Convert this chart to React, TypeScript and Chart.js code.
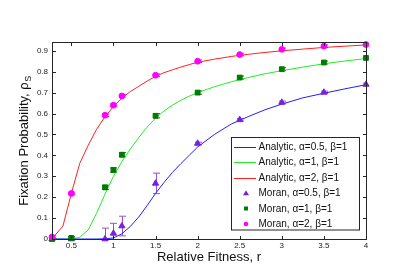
import React, { useEffect, useRef } from 'react';
import { Chart, registerables } from 'chart.js';

Chart.register(...registerables);

// Moran simulation data
const rMoran = [0.27, 0.5, 0.9, 1.0, 1.1, 1.5, 2, 2.5, 3, 3.5, 4];
const moranA05 = [0, 0, 0.0, 0.027, 0.062, 0.266, 0.457, 0.570, 0.653, 0.701, 0.739];
const errA05 = [0.004, 0.004, 0.052, 0.048, 0.047, 0.049, 0.006, 0.006, 0.006, 0.006, 0.006];
const moranA1 = [0.0, 0.005, 0.247, 0.330, 0.403, 0.589, 0.700, 0.772, 0.812, 0.844, 0.866];
const errA1 = [0.004, 0.006, 0.01, 0.01, 0.01, 0.01, 0.008, 0.007, 0.007, 0.007, 0.007];
const moranA2 = [0.01, 0.218, 0.592, 0.640, 0.684, 0.783, 0.850, 0.882, 0.907, 0.922, 0.930];
const errA2 = [0.006, 0.006, 0.006, 0.006, 0.006, 0.006, 0.006, 0.006, 0.006, 0.006, 0.006];

// Analytic curves
const rAnalytic = [0.27, 0.3, 0.4, 0.5, 0.6, 0.7, 0.8, 0.9, 1.0, 1.1, 1.2, 1.3, 1.4, 1.5, 1.6, 1.7, 1.8, 1.9, 2.0, 2.2, 2.4, 2.6, 2.8, 3.0, 3.25, 3.5, 3.75, 4.0];
const analyticA05 = [0, 0, 0, 0, 0, 0, 0, 0.001, 0.005, 0.025, 0.06, 0.105, 0.16, 0.218, 0.27, 0.318, 0.36, 0.40, 0.44, 0.50, 0.55, 0.585, 0.618, 0.645, 0.675, 0.697, 0.718, 0.738];
const analyticA1 = [0, 0, 0, 0, 0.008, 0.043, 0.123, 0.215, 0.30, 0.37, 0.43, 0.485, 0.535, 0.578, 0.612, 0.64, 0.663, 0.683, 0.70, 0.728, 0.752, 0.772, 0.79, 0.805, 0.822, 0.838, 0.851, 0.863];
const analyticA2 = [0.008, 0.015, 0.062, 0.218, 0.362, 0.448, 0.525, 0.585, 0.633, 0.673, 0.705, 0.73, 0.755, 0.778, 0.795, 0.809, 0.822, 0.834, 0.845, 0.86, 0.873, 0.883, 0.892, 0.90, 0.908, 0.916, 0.922, 0.928];

const xTickValues = [0.5, 1, 1.5, 2, 2.5, 3, 3.5, 4];
const xTickLabels = ['0.5', '1', '1.5', '2', '2.5', '3', '3.5', '4'];
const yTickValues = [0, 0.1, 0.2, 0.3, 0.4, 0.5, 0.6, 0.7, 0.8, 0.9];
const yTickLabels = ['0', '0.1', '0.2', '0.3', '0.4', '0.5', '0.6', '0.7', '0.8', '0.9'];

const legendLabels = [
  'Analytic, α=0.5, β=1',
  'Analytic, α=1, β=1',
  'Analytic, α=2, β=1',
  'Moran, α=0.5, β=1',
  'Moran, α=1, β=1',
  'Moran, α=2, β=1',
];
const xTitle = 'Relative Fitness, r';
const yTitle = 'Fixation Probability, ρ';
const yTitleSub = 'S';

const FONT = '"Liberation Sans", Arial, Helvetica, sans-serif';
const AXIS = '#262626';
const BLUE = '#2020ff';
const LGREEN = '#22ee22';
const RED = '#ff2020';
const PURPLE = '#7a1fe0';
const PURPLE_ERR = '#9050e8';
const DGREEN = '#007a00';
const MAGENTA = '#ff00ff';

const toPts = (xs: number[], ys: number[]) => xs.map((x, i) => ({ x, y: ys[i] }));

const errorSets = [
  { ys: moranA05, es: errA05, color: PURPLE_ERR },
  { ys: moranA1, es: errA1, color: DGREEN },
  { ys: moranA2, es: errA2, color: MAGENTA },
];

const overlayPlugin = {
  id: 'overlay',
  beforeDatasetsDraw(chart: any) {
    const { ctx, chartArea, scales } = chart;
    const xs = scales.x;
    const ys = scales.y;
    ctx.save();
    ctx.beginPath();
    ctx.rect(chartArea.left, chartArea.top, chartArea.right - chartArea.left, chartArea.bottom - chartArea.top);
    ctx.clip();
    ctx.lineWidth = 1;
    errorSets.forEach((s) => {
      ctx.strokeStyle = s.color;
      rMoran.forEach((r, i) => {
        const px = Math.round(xs.getPixelForValue(r)) + 0.5;
        const top = ys.getPixelForValue(s.ys[i] + s.es[i]);
        const bot = ys.getPixelForValue(s.ys[i] - s.es[i]);
        ctx.beginPath();
        ctx.moveTo(px, top);
        ctx.lineTo(px, bot);
        ctx.moveTo(px - 3.5, top);
        ctx.lineTo(px + 3.5, top);
        ctx.moveTo(px - 3.5, bot);
        ctx.lineTo(px + 3.5, bot);
        ctx.stroke();
      });
    });
    ctx.restore();
  },
  afterDatasetsDraw(chart: any) {
    const { ctx, chartArea, scales } = chart;
    const { left, right, top, bottom } = chartArea;
    const l = Math.round(left) + 0.5;
    const r = Math.round(right) + 0.5;
    const t = Math.round(top) + 0.5;
    const b = Math.round(bottom) + 0.5;
    ctx.save();
    ctx.strokeStyle = AXIS;
    ctx.lineWidth = 1;
    ctx.strokeRect(l, t, r - l, b - t);
    const tl = 3.5;
    ctx.beginPath();
    xTickValues.forEach((v) => {
      const px = Math.round(scales.x.getPixelForValue(v)) + 0.5;
      ctx.moveTo(px, b);
      ctx.lineTo(px, b - tl);
      ctx.moveTo(px, t);
      ctx.lineTo(px, t + tl);
    });
    yTickValues.forEach((v) => {
      const py = Math.round(scales.y.getPixelForValue(v)) + 0.5;
      ctx.moveTo(l, py);
      ctx.lineTo(l + tl, py);
      ctx.moveTo(r, py);
      ctx.lineTo(r - tl, py);
    });
    ctx.stroke();
    ctx.restore();
  },
  afterDraw(chart: any) {
    const { ctx } = chart;
    ctx.save();
    // Legend box
    const bx = 231.5, by = 137.5, bw = 128, bh = 92.5;
    ctx.fillStyle = '#ffffff';
    ctx.fillRect(bx, by, bw, bh);
    ctx.strokeStyle = AXIS;
    ctx.lineWidth = 1;
    ctx.strokeRect(bx, by, bw, bh);
    const rowY0 = 146.7;
    const rowStep = 15.45;
    ctx.font = `10px ${FONT}`;
    ctx.textBaseline = 'middle';
    ctx.textAlign = 'left';
    const lineColors = [BLUE, LGREEN, RED];
    legendLabels.forEach((lab, i) => {
      const y = rowY0 + i * rowStep;
      if (i < 3) {
        ctx.strokeStyle = lineColors[i];
        ctx.lineWidth = 1;
        ctx.beginPath();
        ctx.moveTo(234, Math.round(y) + 0.5);
        ctx.lineTo(256, Math.round(y) + 0.5);
        ctx.stroke();
      } else if (i === 3) {
        ctx.fillStyle = PURPLE;
        ctx.beginPath();
        ctx.moveTo(246, y - 2.8);
        ctx.lineTo(249, y + 2.2);
        ctx.lineTo(243, y + 2.2);
        ctx.closePath();
        ctx.fill();
      } else if (i === 4) {
        ctx.fillStyle = DGREEN;
        ctx.fillRect(244, y - 2, 4, 4);
      } else {
        ctx.fillStyle = MAGENTA;
        ctx.beginPath();
        ctx.arc(246, y, 2.3, 0, Math.PI * 2);
        ctx.fill();
      }
      ctx.fillStyle = '#111';
      ctx.fillText(lab, 258.5, y + 0.5);
    });

    // Axis titles
    ctx.fillStyle = '#111';
    ctx.font = `13px ${FONT}`;
    ctx.textAlign = 'center';
    ctx.textBaseline = 'alphabetic';
    ctx.fillText(xTitle, 209, 261);

    ctx.translate(28, 141);
    ctx.rotate(-Math.PI / 2);
    ctx.font = `13px ${FONT}`;
    const wMain = ctx.measureText(yTitle).width;
    ctx.font = `9px ${FONT}`;
    const wSub = ctx.measureText(yTitleSub).width;
    const start = -(wMain + wSub) / 2;
    ctx.textAlign = 'left';
    ctx.font = `13px ${FONT}`;
    ctx.fillText(yTitle, start, 0);
    ctx.font = `9px ${FONT}`;
    ctx.fillText(yTitleSub, start + wMain + 0.5, 3);
    ctx.restore();
  },
};

export default function App() {
  const canvasRef = useRef<HTMLCanvasElement | null>(null);

  useEffect(() => {
    if (!canvasRef.current) return;
    const lineDs = (ys: number[], color: string) => ({
      type: 'line' as const,
      data: toPts(rAnalytic, ys),
      borderColor: color,
      backgroundColor: color,
      borderWidth: 1,
      pointRadius: 0,
      showLine: true,
      tension: 0,
      order: 10,
    });
    const markerDs = (ys: number[], color: string, style: string, radius: number, order: number) => ({
      type: 'scatter' as const,
      data: toPts(rMoran, ys),
      borderColor: color,
      backgroundColor: color,
      borderWidth: 1,
      pointStyle: style,
      pointRadius: radius,
      showLine: false,
      clip: false,
      order,
    });

    const chart = new Chart(canvasRef.current, {
      type: 'scatter',
      data: {
        datasets: [
          lineDs(analyticA05, BLUE),
          lineDs(analyticA1, LGREEN),
          lineDs(analyticA2, RED),
          markerDs(moranA05, PURPLE, 'triangle', 3.6, 3),
          markerDs(moranA1, DGREEN, 'rect', 3.4, 2),
          markerDs(moranA2, MAGENTA, 'circle', 2.9, 1),
        ] as any,
      },
      options: {
        responsive: false,
        animation: false,
        events: [],
        layout: { padding: { left: 0, top: 42, right: 41, bottom: 0 } },
        plugins: {
          legend: { display: false },
          tooltip: { enabled: false },
          title: { display: false },
        },
        scales: {
          x: {
            type: 'linear',
            min: 0.27,
            max: 4,
            grid: { display: false, drawTicks: false },
            border: { display: false },
            afterBuildTicks: (scale: any) => {
              scale.ticks = xTickValues.map((v) => ({ value: v }));
            },
            afterFit: (scale: any) => {
              scale.height = 28;
            },
            ticks: {
              autoSkip: false,
              maxRotation: 0,
              padding: 2,
              color: '#222',
              font: { family: FONT, size: 8 },
              callback: (v: any) => {
                const i = xTickValues.indexOf(Number(v));
                return i >= 0 ? xTickLabels[i] : '';
              },
            },
          },
          y: {
            type: 'linear',
            min: 0,
            max: 0.942,
            grid: { display: false, drawTicks: false },
            border: { display: false },
            afterBuildTicks: (scale: any) => {
              scale.ticks = yTickValues.map((v) => ({ value: v }));
            },
            afterFit: (scale: any) => {
              scale.width = 52;
            },
            ticks: {
              autoSkip: false,
              padding: 4,
              color: '#222',
              font: { family: FONT, size: 8 },
              callback: (v: any) => {
                const i = yTickValues.findIndex((t) => Math.abs(t - Number(v)) < 1e-9);
                return i >= 0 ? yTickLabels[i] : '';
              },
            },
          },
        },
      },
      plugins: [overlayPlugin],
    });
    return () => chart.destroy();
  }, []);

  return (
    <div style={{ position: 'fixed', left: 0, top: 0, width: 407, height: 267, background: '#fff' }}>
      <canvas ref={canvasRef} width={407} height={267} style={{ width: 407, height: 267 }} />
    </div>
  );
}
